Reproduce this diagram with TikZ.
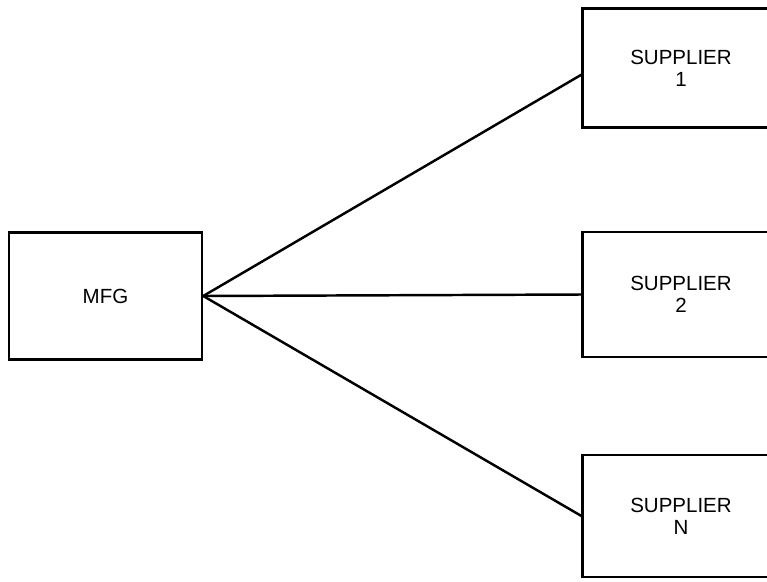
\documentclass[tikz,border=0pt]{standalone}
\usepackage{fontspec}
\setmainfont{Liberation Sans}
\begin{document}
\begin{tikzpicture}[x=0.03cm,y=-0.03cm,line width=2.1pt]
        \useasboundingbox (0,0) rectangle (767,581);
        \begin{scope}[every node/.style={rectangle,draw,align=center,
                        font=\fontsize{17.5}{19}\selectfont,inner sep=0pt}]
            \node[minimum width=5.79cm, minimum height=3.81cm] (MFG) at (105.5,296) {MFG};
            \node[minimum width=5.9cm, minimum height=3.56cm] (S1) at (681,68) {SUPPLIER\\1};
            \node[minimum width=5.9cm, minimum height=3.75cm] (S2) at (681,294.5) {SUPPLIER\\2};
            \node[minimum width=5.9cm, minimum height=3.66cm] (SN) at (681,516) {SUPPLIER\\N};
        \end{scope}

        \path (MFG.east) edge ([yshift=-0.2cm]S1.west);
        \path (MFG.east) edge (S2.west);
        \path (MFG.east) edge (SN.west);
    \end{tikzpicture}
\end{document}
